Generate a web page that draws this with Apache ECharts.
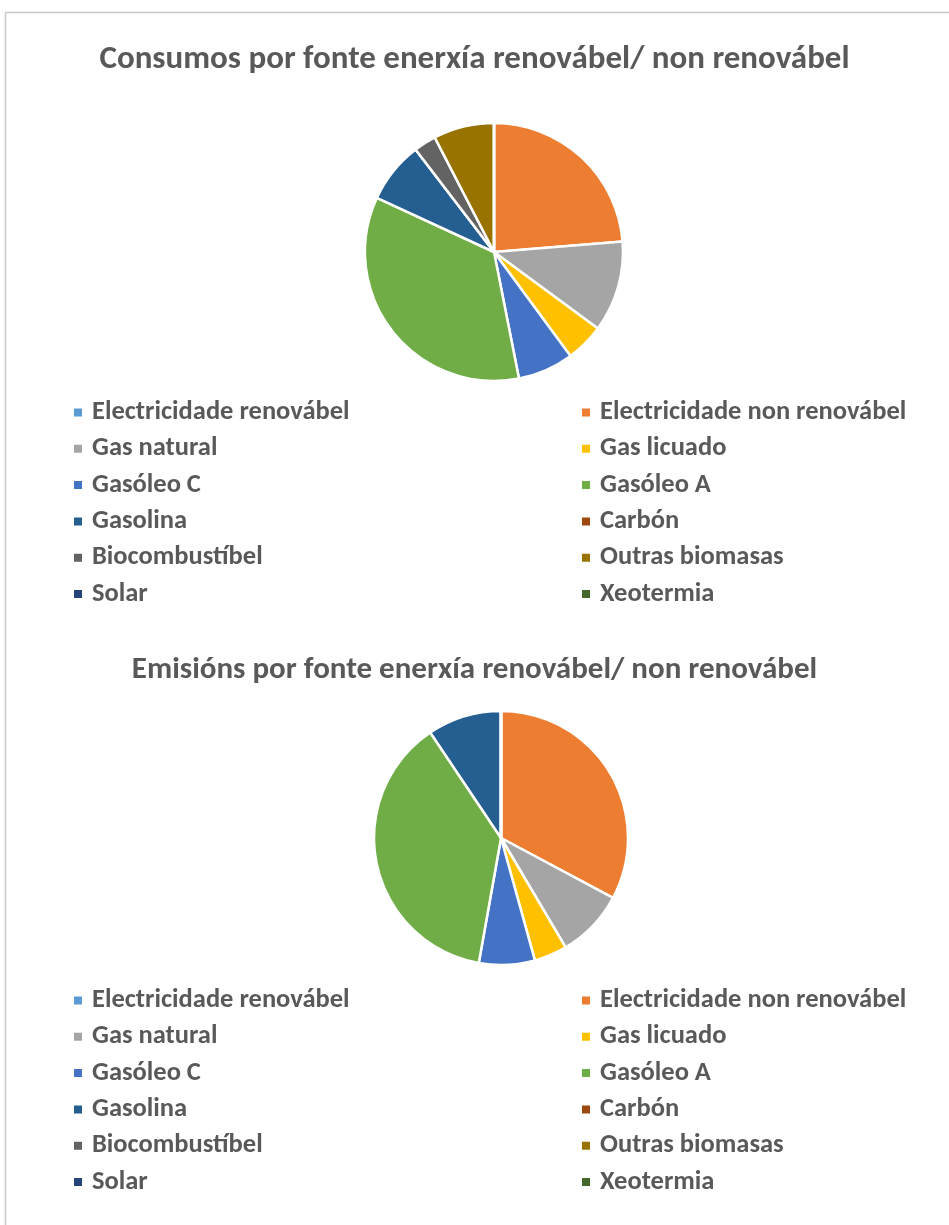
<!DOCTYPE html>
<html>
<head>
<meta charset="utf-8">
<script src="https://cdn.jsdelivr.net/npm/echarts@6/dist/echarts.min.js"></script>
<style>
html,body{margin:0;padding:0;background:#fff;}
#chart{width:949px;height:1225px;}
</style>
</head>
<body>
<div id="chart"></div>
<script>
const categories = ["Electricidade renovábel","Electricidade non renovábel","Gas natural","Gas licuado","Gasóleo C","Gasóleo A","Gasolina","Carbón","Biocombustíbel","Outras biomasas","Solar","Xeotermia"];
const colors = ["#5B9BD5","#ED7D31","#A5A5A5","#FFC000","#4472C4","#70AD47","#255E91","#9E480E","#636363","#997300","#264478","#43682B"];
const consumos = [0, 23.7, 11.4, 4.8, 7.0, 35.0, 7.7, 0, 2.8, 7.6, 0, 0];
const emisions = [0, 32.8, 8.7, 4.2, 7.1, 37.8, 9.4, 0, 0, 0, 0, 0];
const title1 = "Consumos por fonte enerxía renovábel/ non renovábel";
const title2 = "Emisións por fonte enerxía renovábel/ non renovábel";

const FONT = "Carlito, 'Liberation Sans Narrow', 'DejaVu Sans Condensed', 'Open Sans', sans-serif";
const TXT = "#595959";

function pieData(vals){
  return categories.map((c,i)=>({name:c, value:vals[i], itemStyle:{color:colors[i]}}));
}
function legendCol(names, left, top){
  return {
    orient:'vertical', left:left, top:top, itemWidth:10, itemHeight:10, icon:'rect',
    itemGap:9.3, selectedMode:false,
    data:names,
    textStyle:{color:TXT, fontFamily:FONT, fontSize:26.5, fontWeight:'bold', lineHeight:26, padding:[0,0,0,4]}
  };
}
const leftNames = categories.filter((c,i)=>i%2===0);
const rightNames = categories.filter((c,i)=>i%2===1);

const chart = echarts.init(document.getElementById('chart'), null, {renderer:'canvas'});
chart.setOption({
  backgroundColor:'#fff',
  animation:false,
  graphic:[{type:'rect', shape:{x:5.5,y:12.5,width:1000,height:1300}, style:{fill:'none', stroke:'#c8c8c8', lineWidth:1.5}, silent:true}],
  title:[
    {text:title1, left:'center', top:38, textStyle:{color:TXT, fontFamily:FONT, fontSize:33, fontWeight:'bold'}},
    {text:title2, left:'center', top:650, textStyle:{color:TXT, fontFamily:FONT, fontSize:31, fontWeight:'bold'}}
  ],
  legend:[
    legendCol(leftNames, 67, 394),
    legendCol(rightNames, 575, 394),
    legendCol(leftNames, 67, 982),
    legendCol(rightNames, 575, 982)
  ],
  series:[
    {type:'pie', center:[494,252], radius:129, startAngle:90, clockwise:true, label:{show:false}, labelLine:{show:false},
     itemStyle:{borderColor:'#fff', borderWidth:2.5}, emphasis:{disabled:true}, data:pieData(consumos)},
    {type:'pie', center:[501,838], radius:127, startAngle:90, clockwise:true, label:{show:false}, labelLine:{show:false},
     itemStyle:{borderColor:'#fff', borderWidth:2.5}, emphasis:{disabled:true}, data:pieData(emisions)}
  ]
});
</script>
</body>
</html>
